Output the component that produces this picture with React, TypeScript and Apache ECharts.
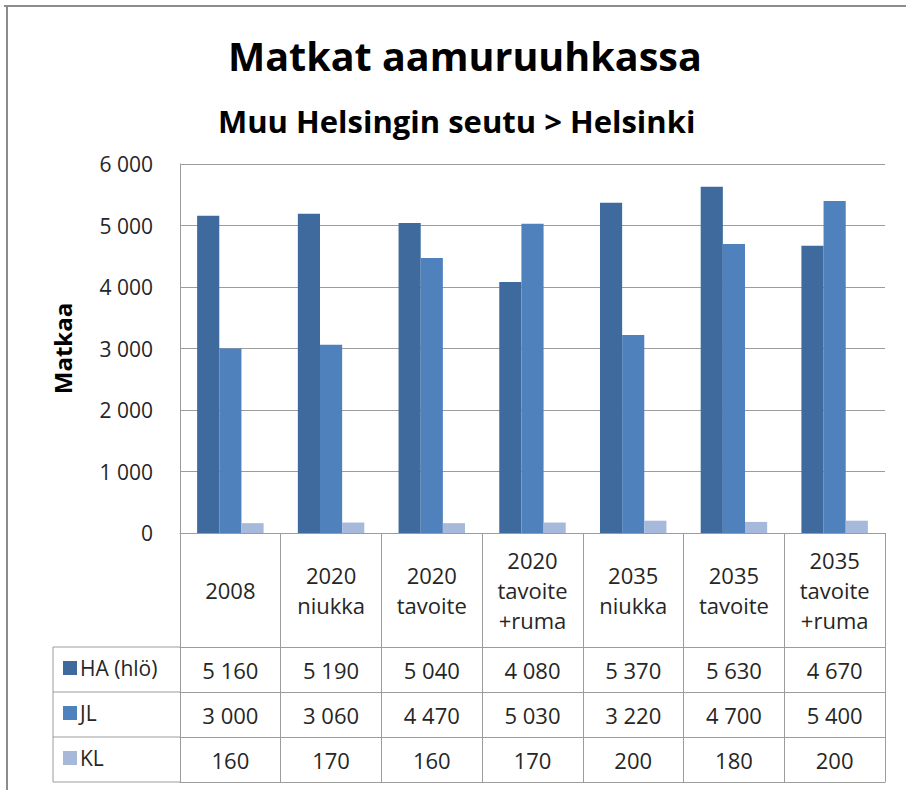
import React, { useEffect, useRef } from "react";
import * as echarts from "echarts";

const categories = ["2008", "2020\nniukka", "2020\ntavoite", "2020\ntavoite\n+ruma", "2035\nniukka", "2035\ntavoite", "2035\ntavoite\n+ruma"];
const seriesNames = ["HA (hlö)", "JL", "KL"];
const haValues = [5160, 5190, 5040, 4080, 5370, 5630, 4670];
const jlValues = [3000, 3060, 4470, 5030, 3220, 4700, 5400];
const klValues = [160, 170, 160, 170, 200, 180, 200];
const yTicks = { min: 0, max: 6000, interval: 1000 };
const titleText = "Matkat aamuruuhkassa";
const subtitleText = "Muu Helsingin seutu > Helsinki";
const yAxisName = "Matkaa";

const colors = ["#3e6a9e", "#4f81bd", "#a7b9db"];
const FONT = "'Open Sans', Lato, sans-serif";
const LINE = "#9c9c9c";
const TXT = "#262626";

const W = 906, H = 790;
const plotLeft = 180, plotRight = 885, plotTop = 164, plotBottom = 533;
const headerH = 114, rowH = 45;
const legendLeftX = 53;

const fmt = (n: number) => String(n).replace(/\B(?=(\d{3})+(?!\d))/g, " ");

export default function App() {
  const ref = useRef<HTMLDivElement>(null);
  useEffect(() => {
    document.body.style.margin = "0";
    const chart = echarts.init(ref.current!, null, { renderer: "svg" });
    const allValues = [haValues, jlValues, klValues];
    const rowTop = (i: number) => plotBottom + headerH + i * rowH;

    const xAxes: any[] = [
      {
        type: "category",
        data: categories,
        position: "bottom",
        offset: 0,
        axisLine: { show: true, lineStyle: { color: LINE, width: 1 } },
        axisTick: { show: true, length: headerH, lineStyle: { color: LINE } },
        axisLabel: {
          show: true,
          interval: 0,
          margin: headerH / 2,
          verticalAlign: "middle",
          fontFamily: FONT,
          fontSize: 22,
          lineHeight: 30,
          color: TXT,
        },
      },
    ];
    allValues.forEach((vals, si) => {
      xAxes.push({
        type: "category",
        data: categories,
        position: "bottom",
        offset: headerH + si * rowH,
        axisLine: { show: true, lineStyle: { color: LINE, width: 1 } },
        axisTick: { show: true, length: rowH, lineStyle: { color: LINE } },
        axisLabel: {
          show: true,
          interval: 0,
          margin: rowH / 2,
          verticalAlign: "middle",
          fontFamily: FONT,
          fontSize: 22,
          color: TXT,
          formatter: (_v: string, i: number) => fmt(vals[i]),
        },
      });
    });
    xAxes.push({
      type: "category",
      data: categories,
      position: "bottom",
      offset: headerH + 3 * rowH,
      axisLine: { show: true, lineStyle: { color: LINE, width: 1 } },
      axisTick: { show: false },
      axisLabel: { show: false },
    });

    const legends = seriesNames.map((name, i) => ({
      data: [name],
      orient: "vertical",
      left: legendLeftX + 10,
      top: rowTop(i) + rowH / 2 - 12,
      padding: 0,
      icon: "rect",
      itemWidth: 14,
      itemHeight: 14,
      itemGap: 0,
      selectedMode: false,
      textStyle: { fontFamily: FONT, fontSize: 21, color: TXT, padding: [0, 0, 0, -2] },
    }));

    const graphics: any[] = [
      { type: "line", shape: { x1: 4, y1: 6, x2: W, y2: 6 }, style: { stroke: "#8c8c8c", lineWidth: 2 } },
      { type: "line", shape: { x1: 7, y1: 5, x2: 7, y2: H }, style: { stroke: "#8c8c8c", lineWidth: 2 } },
      { type: "line", shape: { x1: legendLeftX, y1: rowTop(0), x2: legendLeftX, y2: rowTop(3) }, style: { stroke: LINE, lineWidth: 1 } },
    ];
    for (let i = 0; i <= 3; i++) {
      graphics.push({ type: "line", shape: { x1: legendLeftX, y1: rowTop(i), x2: plotLeft, y2: rowTop(i) }, style: { stroke: LINE, lineWidth: 1 } });
    }

    chart.setOption({
      animation: false,
      color: colors,
      title: [
        { text: titleText, left: 223, top: 31, textStyle: { fontFamily: FONT, fontWeight: "bold", fontSize: 39.5, color: "#000" } },
        { text: subtitleText, left: 213, top: 100, textStyle: { fontFamily: FONT, fontWeight: "bold", fontSize: 31, color: "#000" } },
      ],
      legend: legends,
      grid: { left: plotLeft, right: W - plotRight, top: plotTop, bottom: H - plotBottom, containLabel: false },
      xAxis: xAxes,
      yAxis: {
        type: "value",
        min: yTicks.min,
        max: yTicks.max,
        interval: yTicks.interval,
        name: yAxisName,
        nameLocation: "middle",
        nameGap: 106,
        nameTextStyle: { fontFamily: FONT, fontWeight: "bold", fontSize: 24, color: "#000" },
        axisLine: { show: true, lineStyle: { color: LINE } },
        axisTick: { show: false },
        axisLabel: { margin: 27, fontFamily: FONT, fontSize: 21, color: TXT, formatter: (v: number) => fmt(v) },
        splitLine: { show: true, lineStyle: { color: LINE, width: 1 } },
      },
      series: [haValues, jlValues, klValues].map((vals, i) => ({
        type: "bar",
        name: seriesNames[i],
        data: vals,
        xAxisIndex: 0,
        barGap: "0%",
        barCategoryGap: "34%",
        itemStyle: { color: colors[i] },
      })),
      graphic: graphics,
    });
    return () => chart.dispose();
  }, []);
  return <div ref={ref} style={{ width: W, height: H, background: "#fff" }} />;
}
